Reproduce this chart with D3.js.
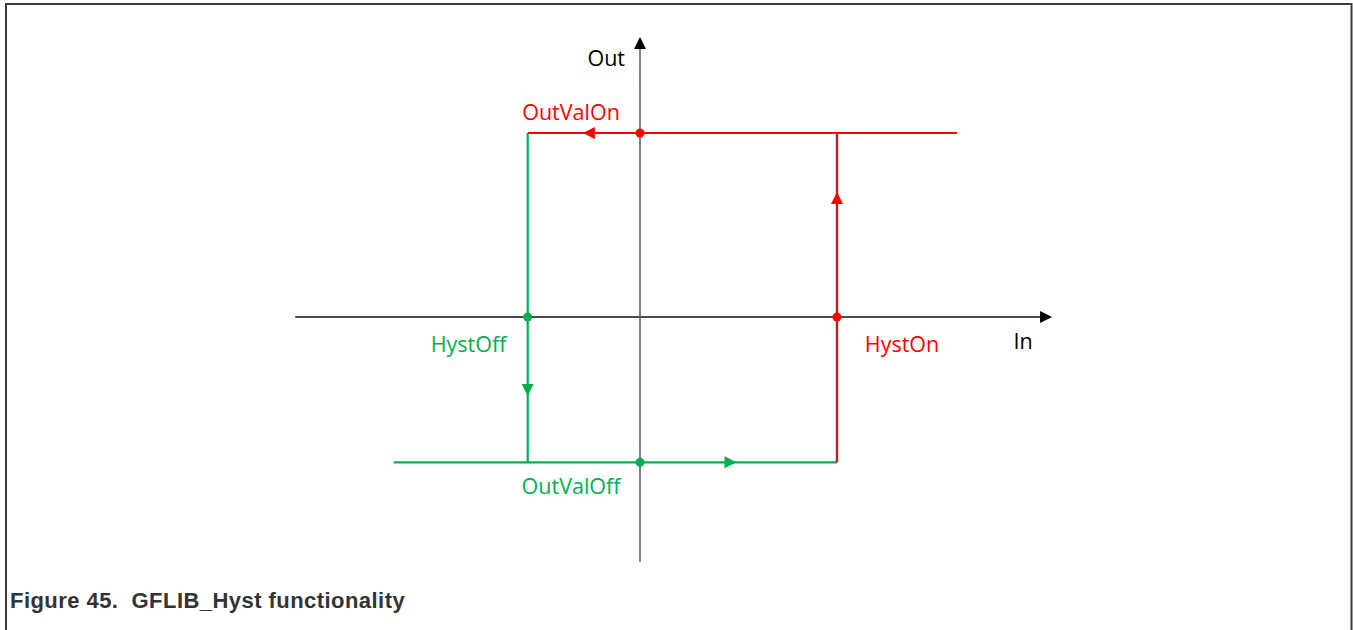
<!DOCTYPE html>
<html lang="en">
  <head>
    <title>GFLIB_Hyst functionality</title>
    <meta charset="utf-8">
    <style>
      body { margin: 0; background: #ffffff; }
      .lbl { font-family: "Open Sans", "Noto Sans", sans-serif; font-size: 21.5px; }
      .caption { font-family: "Liberation Sans", Arial, sans-serif; font-size: 22px; font-weight: bold; fill: #333333; white-space: pre; letter-spacing: 0.45px; }
    </style>
    <script src="https://cdn.jsdelivr.net/npm/d3@7"></script>
  </head>
  <body>
    <div id="container"></div>
    <script type="text/javascript">
      // ------------------------- DATA -------------------------|
      // input axis units: HystOn = 1, output units: OutValOn = 1
      var xAxisExtent = [-1.75, 2.046];
      var yAxisExtent = [-1.33, 1.473];
      var hystOff = -0.57;
      var hystOn = 1.0;
      var outValOn = 1.0;
      var outValOff = -0.79;
      var topLineEnd = 1.61;
      var bottomLineStart = -1.25;

      var redTop = [[topLineEnd, outValOn], [hystOff, outValOn]];
      var redRise = [[hystOn, outValOff], [hystOn, outValOn]];
      var greenFall = [[hystOff, outValOn], [hystOff, outValOff]];
      var greenBottom = [[bottomLineStart, outValOff], [hystOn, outValOff]];

      // arrow heads (tip position + direction)
      var arrows = [
        {x: -0.29, y: outValOn, dir: "left", c: "red"},
        {x: hystOn, y: 0.68, dir: "up", c: "red"},
        {x: hystOff, y: -0.43, dir: "down", c: "green"},
        {x: 0.49, y: outValOff, dir: "right", c: "green"}
      ];
      var dots = [
        {x: 0, y: outValOn, c: "red"},
        {x: hystOn, y: 0, c: "red"},
        {x: hystOff, y: 0, c: "green"},
        {x: 0, y: outValOff, c: "green"}
      ];
      var labels = [
        {t: "OutValOn", x: -0.35, y: 1.07, c: "red"},
        {t: "HystOff", x: -0.87, y: -0.19, c: "green"},
        {t: "HystOn", x: 1.33, y: -0.19, c: "red"},
        {t: "OutValOff", x: -0.35, y: -0.96, c: "green"}
      ];

      //------------------------- COLORS -------------------------|
      var colors = {red: "#ff0000", green: "#00b050"};

      var width = 1353, height = 630;
      var originX = 640, originY = 317, unitX = 197, unitY = 184;

      var svg = d3.select("#container").append("svg")
                  .attr("width", width)
                  .attr("height", height);

      // frame
      svg.append("path")
         .attr("d", "M6,640 V4 H1351.5 V640")
         .attr("fill", "none")
         .attr("stroke", "#3a3a3a")
         .attr("stroke-width", 2);

      var x = d3.scaleLinear().domain(xAxisExtent)
                .range(xAxisExtent.map(v => originX + v * unitX));
      var y = d3.scaleLinear().domain(yAxisExtent)
                .range(yAxisExtent.map(v => originY - v * unitY));
      var line = d3.line().x(d => x(d[0])).y(d => y(d[1]));

      // axes
      svg.append("line")
         .attr("x1", x(xAxisExtent[0])).attr("x2", x(xAxisExtent[1]))
         .attr("y1", y(0)).attr("y2", y(0))
         .attr("stroke", "#111").attr("stroke-width", 1.3);
      svg.append("path")
         .attr("d", "M" + (x(xAxisExtent[1]) + 9) + "," + y(0) + " l-12,-6 v12 z")
         .attr("fill", "#000");
      svg.append("line")
         .attr("x1", x(0)).attr("x2", x(0))
         .attr("y1", y(yAxisExtent[0])).attr("y2", y(yAxisExtent[1]))
         .attr("stroke", "#555").attr("stroke-width", 1.5);
      svg.append("path")
         .attr("d", "M" + x(0) + "," + (y(yAxisExtent[1]) - 9) + " l-6,12 h12 z")
         .attr("fill", "#000");

      svg.append("text").attr("class", "lbl")
         .attr("x", x(0) - 15).attr("y", 66)
         .attr("text-anchor", "end").attr("fill", "#000").text("Out");
      svg.append("text").attr("class", "lbl")
         .attr("x", 1023).attr("y", 349)
         .attr("text-anchor", "middle").attr("fill", "#000").text("In");

      // hysteresis loop
      svg.append("path").attr("d", line(redTop))
         .attr("fill", "none").attr("stroke", colors.red).attr("stroke-width", 2.2);
      svg.append("path").attr("d", line(greenBottom))
         .attr("fill", "none").attr("stroke", colors.green).attr("stroke-width", 2.2);
      svg.append("path").attr("d", line(greenFall))
         .attr("fill", "none").attr("stroke", colors.green).attr("stroke-width", 2.2);
      svg.append("path").attr("d", line(redRise))
         .attr("fill", "none").attr("stroke", "#d42020").attr("stroke-width", 2.4);
      svg.append("path").attr("d", line(redRise))
         .attr("fill", "none").attr("stroke", "#8e2a2a").attr("stroke-width", 1.2);

      var heads = {
        left: "l12,-6 v12 z", right: "l-12,-6 v12 z",
        up: "l-6,12 h12 z", down: "l-6,-12 h12 z"
      };
      svg.selectAll(".arrow").data(arrows).enter().append("path")
         .attr("class", "arrow")
         .attr("d", d => "M" + x(d.x) + "," + y(d.y) + " " + heads[d.dir])
         .attr("fill", d => colors[d.c]);

      svg.selectAll(".dot").data(dots).enter().append("circle")
         .attr("class", "dot")
         .attr("cx", d => x(d.x)).attr("cy", d => y(d.y)).attr("r", 4.5)
         .attr("fill", d => colors[d.c]);

      svg.selectAll(".plbl").data(labels).enter().append("text")
         .attr("class", "lbl plbl")
         .attr("x", d => x(d.x)).attr("y", d => y(d.y))
         .attr("text-anchor", "middle")
         .attr("fill", d => colors[d.c])
         .text(d => d.t);

      svg.append("text").attr("class", "caption")
         .attr("x", 10).attr("y", 608)
         .text("Figure 45.  GFLIB_Hyst functionality");
    </script>
  </body>
</html>
